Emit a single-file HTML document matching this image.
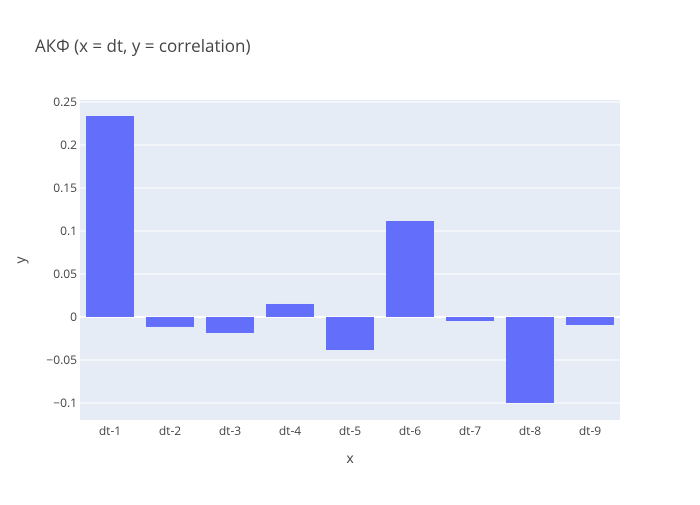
<!DOCTYPE html>
<html><head><meta charset="utf-8">
<style>
body{margin:0;background:#fff;}
svg{font-family:"Open Sans","Liberation Sans",sans-serif;}
</style></head>
<body>
<svg id="chart" width="700" height="500">
<rect width="700" height="500" fill="#fff"/>
<rect x="80" y="100" width="540" height="320" fill="#e5ecf6"/>
<g id="grid"></g>
<g id="bars"></g>
<g id="labels"></g>
<text x="35" y="52" font-size="17" fill="#444">АКФ (x = dt, y = correlation)</text>
<text x="350" y="463" font-size="14" fill="#444" text-anchor="middle">x</text>
<text x="25" y="260" font-size="14" fill="#444" text-anchor="middle" transform="rotate(-90 25 260)">y</text>
</svg>
<script>
const categories=["dt-1","dt-2","dt-3","dt-4","dt-5","dt-6","dt-7","dt-8","dt-9"];
const values=[0.2337,-0.0116,-0.0186,0.0151,-0.0384,0.1116,-0.0047,-0.1,-0.0093];
const yTicks=[-0.1,-0.05,0,0.05,0.1,0.15,0.2,0.25];
const yTickLabels=["−0.1","−0.05","0","0.05","0.1","0.15","0.2","0.25"];
const NS="http://www.w3.org/2000/svg";
const x0=80,w=540,yTop=100,yBot=420,yMax=0.2523,yMin=-0.1198;
const y=v=>yTop+(yMax-v)/(yMax-yMin)*(yBot-yTop);
const step=w/categories.length;
const xc=i=>x0+step*(i+0.5);
function mk(tag,attrs,parent){const e=document.createElementNS(NS,tag);for(const k in attrs)e.setAttribute(k,attrs[k]);document.getElementById(parent).appendChild(e);return e;}
yTicks.forEach((t,i)=>{
 const l=mk('line',{x1:x0,x2:x0+w,y1:y(t),y2:y(t),stroke:'#fff','stroke-width':t===0?2:1},'grid');
 
 
 const tx=mk('text',{x:x0-3,y:y(t)+4,'font-size':12,fill:'#444','text-anchor':'end'},'labels');
 tx.textContent=yTickLabels[i];
 
 
});
values.forEach((v,i)=>{
 const bw=step*0.8;
 const r=mk('rect',{x:xc(i)-bw/2,y:Math.min(y(v),y(0)),width:bw,height:Math.abs(y(v)-y(0)),fill:'#636efa'},'bars');
 
 
 const tx=mk('text',{x:xc(i),y:yBot+15,'font-size':12,fill:'#444','text-anchor':'middle'},'labels');
 tx.textContent=categories[i];
 
 
});
</script>
</body></html>
